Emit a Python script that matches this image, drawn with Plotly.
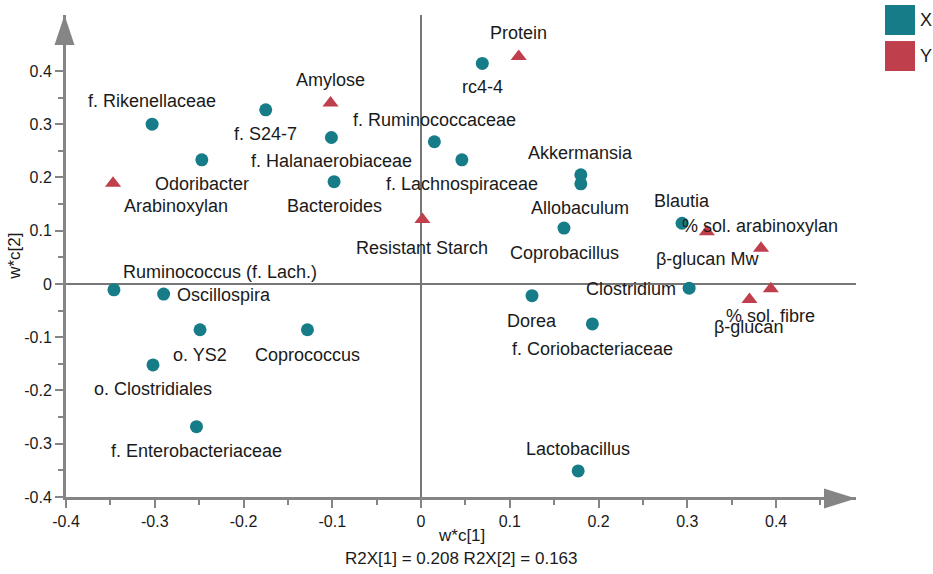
import plotly.graph_objects as go

# ---------------- data ----------------
x_names = ["rc4-4", "f. Rikenellaceae", "f. S24-7", "f. Halanaerobiaceae", "Bacteroides",
           "Odoribacter", "f. Ruminococcaceae", "f. Lachnospiraceae", "Akkermansia",
           "Allobaculum", "Coprobacillus", "Blautia", "Clostridium", "Dorea",
           "f. Coriobacteriaceae", "Lactobacillus", "Ruminococcus (f. Lach.)",
           "Oscillospira", "o. YS2", "Coprococcus", "o. Clostridiales",
           "f. Enterobacteriaceae"]
x_wc1 = [0.069, -0.303, -0.175, -0.101, -0.098, -0.247, 0.015, 0.046, 0.180,
         0.180, 0.161, 0.294, 0.302, 0.125, 0.193, 0.177, -0.346, -0.290,
         -0.249, -0.128, -0.302, -0.253]
x_wc2 = [0.414, 0.300, 0.327, 0.275, 0.192, 0.233, 0.267, 0.233, 0.205,
         0.188, 0.105, 0.114, -0.008, -0.022, -0.075, -0.351, -0.011, -0.019,
         -0.086, -0.086, -0.152, -0.268]

y_names = ["Protein", "Amylose", "Arabinoxylan", "Resistant Starch",
           "% sol. arabinoxylan", "β-glucan Mw", "% sol. fibre", "β-glucan"]
y_wc1 = [0.110, -0.102, -0.347, 0.0015, 0.322, 0.383, 0.394, 0.370]
y_wc2 = [0.427, 0.340, 0.189, 0.121, 0.098, 0.067, -0.009, -0.029]

tick_vals = [-0.4, -0.3, -0.2, -0.1, 0, 0.1, 0.2, 0.3, 0.4]
tick_text = ["-0.4", "-0.3", "-0.2", "-0.1", "0", "0.1", "0.2", "0.3", "0.4"]
x_minor_vals = [-0.35, -0.25, -0.15, -0.05, 0.05, 0.15, 0.25, 0.35, 0.45]
y_minor_vals = [-0.35, -0.25, -0.15, -0.05, 0.05, 0.15, 0.25, 0.35]

x_axis_title = "w*c[1]"
y_axis_title = "w*c[2]"
subtitle = "R2X[1] = 0.208 R2X[2] = 0.163"

# label placement (pixel offsets from the mark: dx right, dy down)
x_label_dx = [0, 0, 0, 0, 0, 0, 0, 0, 0, -1, 1, 0, -58, 0, 0, 0, 106, 60, 0, 0, 0, 0]
x_label_dy = [24, -23, 24, 23, 24, 24, -22, 24, -22, 24, 25, -22, 1, 25, 25, -22, -18, 1, 25, 25, 24, 24]
y_label_dx = [0, 0, 63, 0, 53, -54, 0, -1]
y_label_dy = [-24, -23, 23, 28, -6, 11, 27, 28]

# ---------------- style ----------------
TEAL = "#167c88"
RED = "#bf3f4d"
AXIS = "#858585"
ZERO = "#767676"
TXT = "#1a1a1a"
FONT = "Liberation Sans, Arial, sans-serif"
XR = [-0.4, 0.49]
YR = [-0.4, 0.505]

fig = go.Figure()
fig.add_trace(go.Scatter(x=x_wc1, y=x_wc2, mode="markers", name="X", text=x_names,
                         marker=dict(symbol="circle", size=13, color=TEAL, line=dict(width=0)),
                         showlegend=False))
fig.add_trace(go.Scatter(x=y_wc1, y=y_wc2, mode="markers", name="Y", text=y_names,
                         marker=dict(symbol="triangle-up", size=14, color=RED, line=dict(width=0)),
                         showlegend=False))

annotations = []
for names, xs, ys, dxs, dys in [(x_names, x_wc1, x_wc2, x_label_dx, x_label_dy),
                                (y_names, y_wc1, y_wc2, y_label_dx, y_label_dy)]:
    for n, xv, yv, dx, dy in zip(names, xs, ys, dxs, dys):
        annotations.append(dict(x=xv, y=yv, xref="x", yref="y", text=n, showarrow=False,
                                xshift=dx, yshift=-dy, xanchor="center", yanchor="middle",
                                font=dict(family=FONT, size=18, color=TXT)))

# axis titles
annotations.append(dict(x=0.5, y=-0.079, xref="paper", yref="paper", text=x_axis_title,
                        showarrow=False, xanchor="center", yanchor="middle",
                        font=dict(family=FONT, size=17, color=TXT)))
annotations.append(dict(x=0.5, y=-0.127, xref="paper", yref="paper", text=subtitle,
                        showarrow=False, xanchor="center", yanchor="middle",
                        font=dict(family=FONT, size=17, color=TXT)))
annotations.append(dict(x=-0.066, y=0.5, xref="paper", yref="paper", text=y_axis_title,
                        showarrow=False, textangle=-90, xanchor="center", yanchor="middle",
                        font=dict(family=FONT, size=17, color=TXT)))

# custom legend
legend_items = [("X", TEAL), ("Y", RED)]
shapes = []
for i, (lab, col) in enumerate(legend_items):
    top = 1.0207 - i * 0.0747
    shapes.append(dict(type="rect", xref="paper", yref="paper", x0=1.0367, x1=1.0747,
                       y0=top - 0.0622, y1=top, fillcolor=col, line=dict(width=0)))
    annotations.append(dict(x=1.079, y=top - 0.0311, xref="paper", yref="paper", text=lab,
                            showarrow=False, xanchor="left", yanchor="middle",
                            font=dict(family=FONT, size=18, color=TXT)))

# axis arrow heads (paper-anchored so they are not clipped)
shapes.append(dict(type="path", xref="paper", yref="paper", xsizemode="pixel", ysizemode="pixel",
                   xanchor=0, yanchor=1,
                   path="M -11.5,-30 L 8.5,-30 L -1.5,0 Z",
                   fillcolor=AXIS, line=dict(width=0), layer="above"))
shapes.append(dict(type="path", xref="paper", yref="paper", xsizemode="pixel", ysizemode="pixel",
                   xanchor=1, yanchor=0,
                   path="M -32,8.5 L -32,-11.5 L 0,-1.5 Z",
                   fillcolor=AXIS, line=dict(width=0), layer="above"))

axis_common = dict(showgrid=False, zeroline=True, zerolinecolor=ZERO, zerolinewidth=1.6,
                   showline=True, linecolor=AXIS, linewidth=3, ticks="outside",
                   tickvals=tick_vals, ticktext=tick_text, ticklen=8, tickwidth=2,
                   tickcolor=AXIS, tickfont=dict(family=FONT, size=16, color=TXT))

fig.update_layout(
    width=933, height=574,
    margin=dict(l=66, r=77, t=15, b=77),
    plot_bgcolor="white", paper_bgcolor="white",
    showlegend=False,
    xaxis=dict(range=XR, minor=dict(tickvals=x_minor_vals, ticks="outside", ticklen=5,
                                    tickwidth=1.5, tickcolor=AXIS), **axis_common),
    yaxis=dict(range=YR, minor=dict(tickvals=y_minor_vals, ticks="outside", ticklen=5,
                                    tickwidth=1.5, tickcolor=AXIS), **axis_common),
    annotations=annotations,
    shapes=shapes,
)

fig.write_html("out.html", config={"displayModeBar": False},
               post_script="document.body.style.margin='0px';")
